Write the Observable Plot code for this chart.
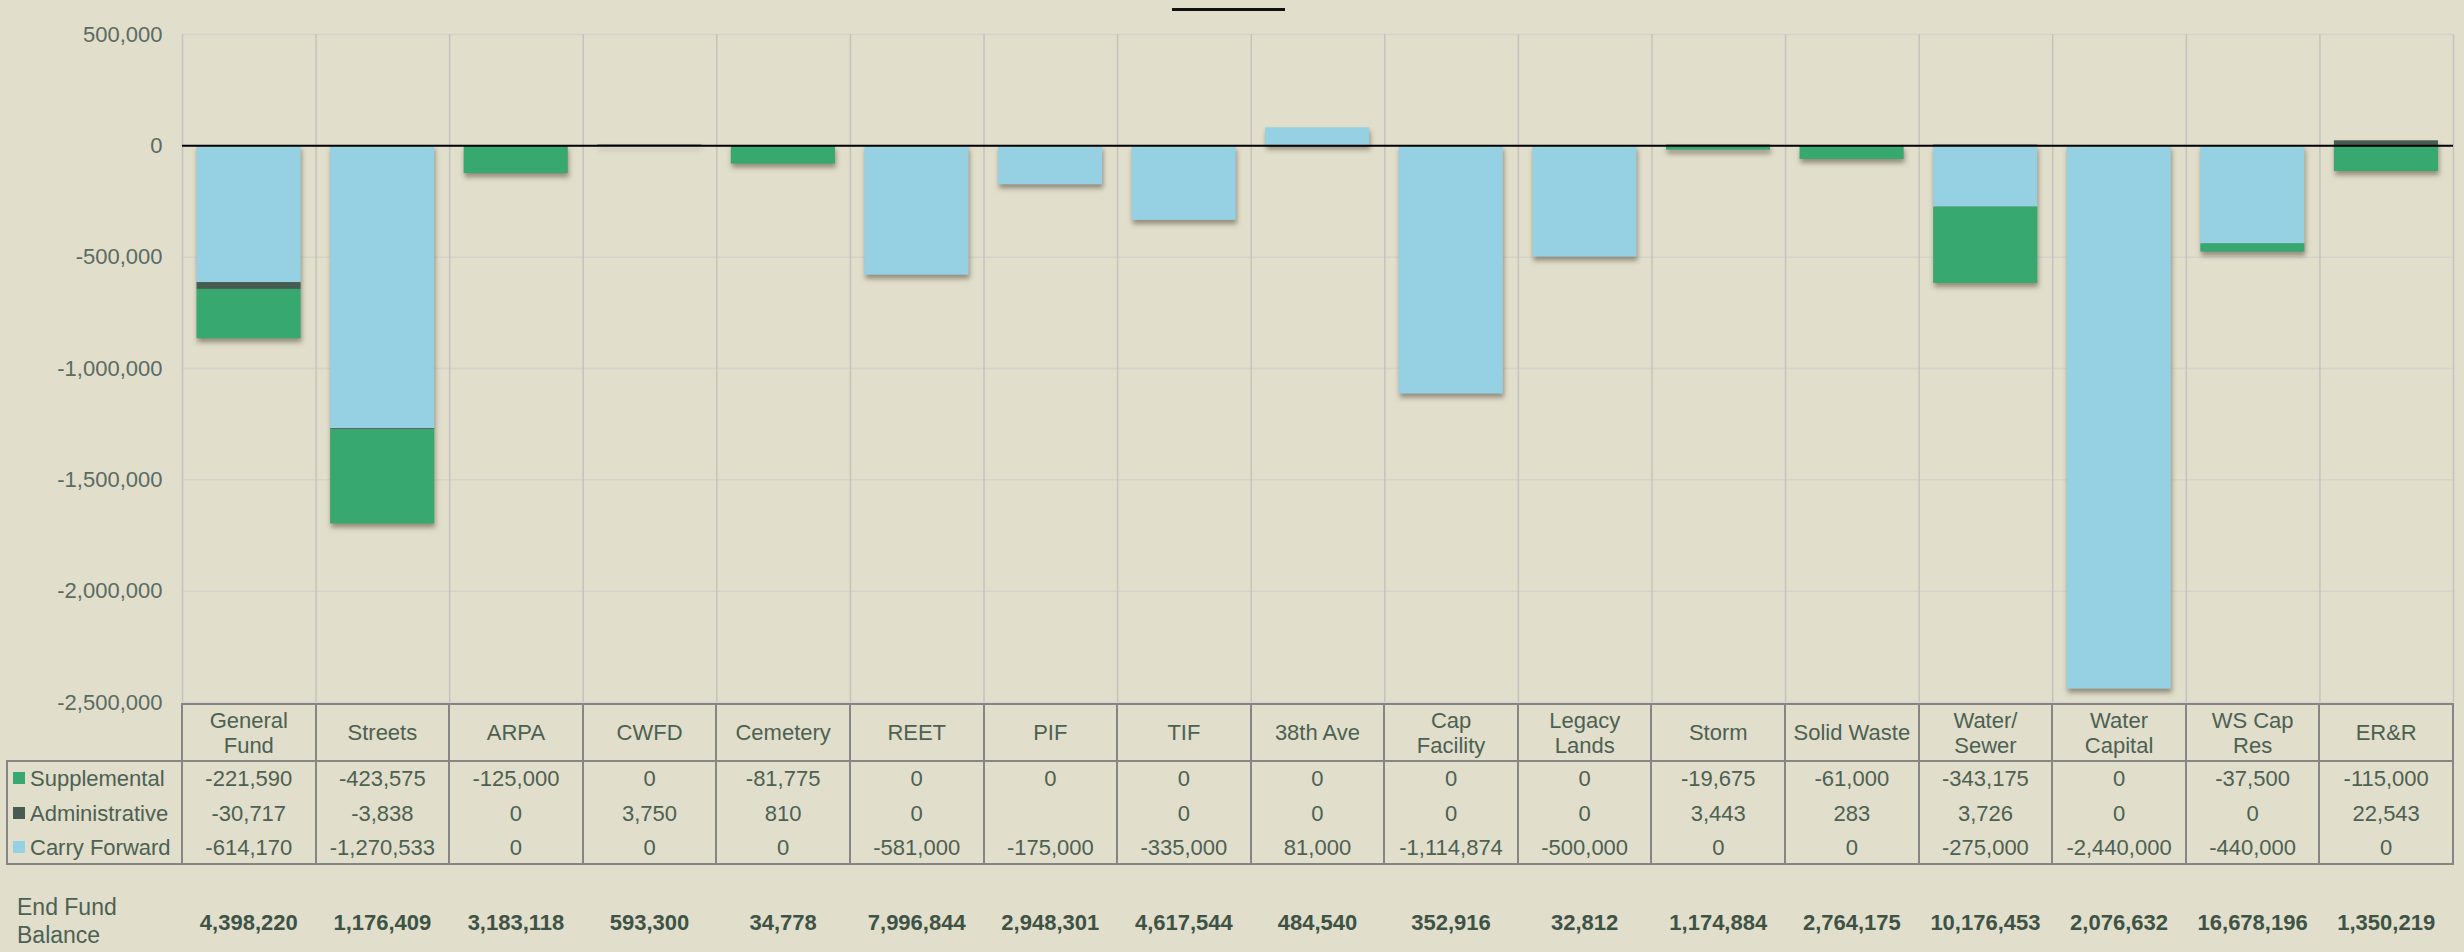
<!DOCTYPE html>
<html><head><meta charset="utf-8">
<script src="https://cdn.jsdelivr.net/npm/d3@7"></script>
<script src="https://cdn.jsdelivr.net/npm/@observablehq/plot@0.6"></script>
<style>
html,body{margin:0;padding:0;background:#E1DECC;}
#wrap{position:relative;width:2464px;height:952px;background:#E1DECC;font-family:"Liberation Sans",Arial,sans-serif;overflow:hidden;}
#wrap svg{position:absolute;left:0;top:0;overflow:visible;}
.cell{position:absolute;display:flex;align-items:center;justify-content:center;text-align:center;color:#4D6152;font-size:22px;line-height:25px;white-space:pre;}
.ln{position:absolute;background:#858585;}
.title-line{position:absolute;left:1172px;top:8px;width:113px;height:3px;background:#111;}
</style></head><body><div id="wrap"><div class="title-line"></div></div>
<script>
const funds = ["General Fund","Streets","ARPA","CWFD","Cemetery","REET","PIF","TIF","38th Ave","Cap Facility","Legacy Lands","Storm","Solid Waste","Water/ Sewer","Water Capital","WS Cap Res","ER&R"];
const fundLabels = ["General\nFund","Streets","ARPA","CWFD","Cemetery","REET","PIF","TIF","38th Ave","Cap\nFacility","Legacy\nLands","Storm","Solid Waste","Water/\nSewer","Water\nCapital","WS Cap\nRes","ER&R"];
const supplemental = [-221590,-423575,-125000,0,-81775,0,0,0,0,0,0,-19675,-61000,-343175,0,-37500,-115000];
const administrative = [-30717,-3838,0,3750,810,0,null,0,0,0,0,3443,283,3726,0,0,22543];
const carryForward = [-614170,-1270533,0,0,0,-581000,-175000,-335000,81000,-1114874,-500000,0,0,-275000,-2440000,-440000,0];
const endFundBalance = [4398220,1176409,3183118,593300,34778,7996844,2948301,4617544,484540,352916,32812,1174884,2764175,10176453,2076632,16678196,1350219];
const seriesNames = ["Supplemental","Administrative","Carry Forward"];
const seriesColors = ["#37A870","#465C50","#96D0E3"];
const seriesValues = [supplemental, administrative, carryForward];

const rows = [];
funds.forEach((f,i)=>{
  rows.push({fund:f, series:"Carry Forward", value: carryForward[i]});
  rows.push({fund:f, series:"Administrative", value: administrative[i] ?? 0});
  rows.push({fund:f, series:"Supplemental", value: supplemental[i]});
});

const W=2464, H=720, ML=182, MR=11, MT=34, MB=18;
const bw=(W-ML-MR)/funds.length;
const fmt = v => v == null ? "" : v.toLocaleString("en-US");

const chart = Plot.plot({
  width:W, height:H, marginLeft:ML, marginRight:MR, marginTop:MT, marginBottom:MB,
  style:{background:"transparent", fontFamily:"Liberation Sans, Arial, sans-serif", fontSize:"22px", color:"#5C6B5F"},
  x:{domain:funds, padding:0, round:false, axis:null},
  y:{domain:[-2500000,500000], ticks:6, tickFormat:fmt, tickSize:0, tickPadding:20, label:null, grid:false},
  color:{domain:seriesNames, range:seriesColors},
  marks:[
    Plot.ruleY([500000,-500000,-1000000,-1500000,-2000000,-2500000],{stroke:"#D6D4CA",strokeWidth:1.5}),
    Plot.ruleX(funds,{x:d=>d,dx:-bw/2,stroke:"#C4C3C0",strokeWidth:1.5}),
    Plot.ruleX([funds[funds.length-1]],{x:d=>d,dx:bw/2,stroke:"#C4C3C0",strokeWidth:1.5}),
    Plot.barY(rows,{x:"fund",y:"value",fill:"series",insetLeft:14.5,insetRight:15}),
    Plot.ruleY([0],{stroke:"#000",strokeWidth:2})
  ]
});
chart.querySelectorAll('g[aria-label="bar"]').forEach(g=>g.style.filter="drop-shadow(1px 4px 2.5px rgba(70,60,40,0.5))");
const wrap = document.getElementById("wrap");
wrap.appendChild(chart);

const xs = chart.scale("x");
const bandW = xs.bandwidth;
const leftOf = f => xs.apply(f);
const xEnd = leftOf(funds[funds.length-1]) + bandW;

function line(x,y,w,h){const d=document.createElement("div");d.className="ln";Object.assign(d.style,{left:x+"px",top:y+"px",width:w+"px",height:h+"px"});wrap.appendChild(d);}
function cell(text,x,y,w,h,extra){const d=document.createElement("div");d.className="cell";d.textContent=text;Object.assign(d.style,{left:x+"px",top:y+"px",width:w+"px",height:h+"px"},extra||{});wrap.appendChild(d);return d;}

const headTop=703, dataTop=760, dataBot=863;
line(leftOf(funds[0])-1, headTop, xEnd-leftOf(funds[0])+2, 2);
line(6, dataTop, xEnd-6+1, 2);
line(6, dataBot, xEnd-6+1, 2);
line(6, dataTop, 2, dataBot-dataTop+2);
funds.forEach(f=>line(leftOf(f)-1, headTop, 2, dataBot-headTop+2));
line(xEnd-1, headTop, 2, dataBot-headTop+2);

funds.forEach((f,i)=>cell(fundLabels[i], leftOf(f), headTop+2, bandW, dataTop-headTop-2));

const rowCenters=[778,813,847];
seriesNames.forEach((s,r)=>{
  const cy=rowCenters[r];
  const sw=document.createElement("div");
  Object.assign(sw.style,{position:"absolute",left:"13px",top:(cy-6)+"px",width:"12px",height:"12px",background:seriesColors[r]});
  wrap.appendChild(sw);
  cell(s, 30, cy-17, 150, 34, {justifyContent:"flex-start"});
  funds.forEach((f,i)=>cell(fmt(seriesValues[r][i]), leftOf(f), cy-17, bandW, 34));
});

cell("End Fund\nBalance", 17, 892, 160, 58, {justifyContent:"flex-start", textAlign:"left", fontSize:"23px", lineHeight:"28px"});
funds.forEach((f,i)=>cell(fmt(endFundBalance[i]), leftOf(f), 905, bandW, 34, {fontWeight:"bold", color:"#3E5345"}));
</script></body></html>
